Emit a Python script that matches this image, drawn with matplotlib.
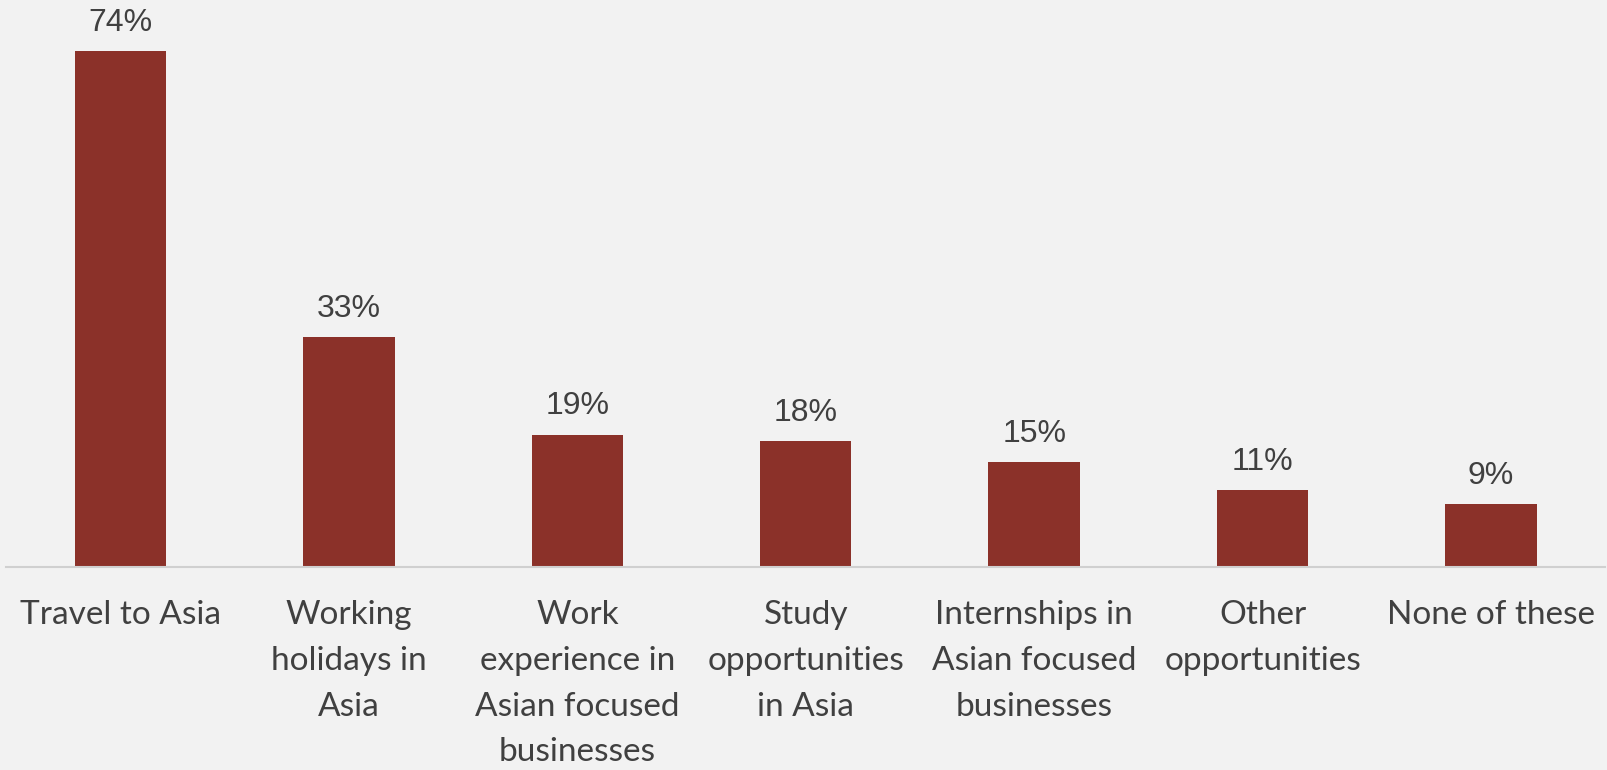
import matplotlib
matplotlib.use('Agg')
import matplotlib.pyplot as plt

categories = ['Travel to Asia', 'Working\nholidays in\nAsia',
              'Work\nexperience in\nAsian focused\nbusinesses',
              'Study\nopportunities\nin Asia',
              'Internships in\nAsian focused\nbusinesses',
              'Other\nopportunities', 'None of these']
values = [74, 33, 19, 18, 15, 11, 9]

bg = '#F2F2F2'
bar_color = '#8B3129'
text_color = '#404040'

fig = plt.figure(figsize=(16.07, 7.7), dpi=100, facecolor=bg)
ax = fig.add_axes([0.004, 0.2636, 0.9948, 0.7364], facecolor=bg)

x = range(len(values))
bars = ax.bar(x, values, width=0.4, color=bar_color)
ax.set_xlim(-0.5, len(values) - 0.5)
ax.set_ylim(0, 81.3)

# percentage labels above each bar
for b, v in zip(bars, values):
    ax.annotate(f'{v}%', (b.get_x() + b.get_width() / 2, v),
                xytext=(0, 9.5), textcoords='offset points',
                ha='center', va='bottom', fontsize=23,
                family='Liberation Sans', color=text_color)

ax.set_xticks(list(x))
ax.set_xticklabels(categories, fontsize=24, family='Lato',
                   color=text_color, linespacing=1.65, va='top')
ax.tick_params(axis='x', length=0, pad=24)
ax.set_yticks([])
for s in ['top', 'left', 'right']:
    ax.spines[s].set_visible(False)
ax.spines['bottom'].set_color('#D0D0D0')
ax.spines['bottom'].set_linewidth(1.5)

fig.savefig('out.png', dpi=100, facecolor=bg)
